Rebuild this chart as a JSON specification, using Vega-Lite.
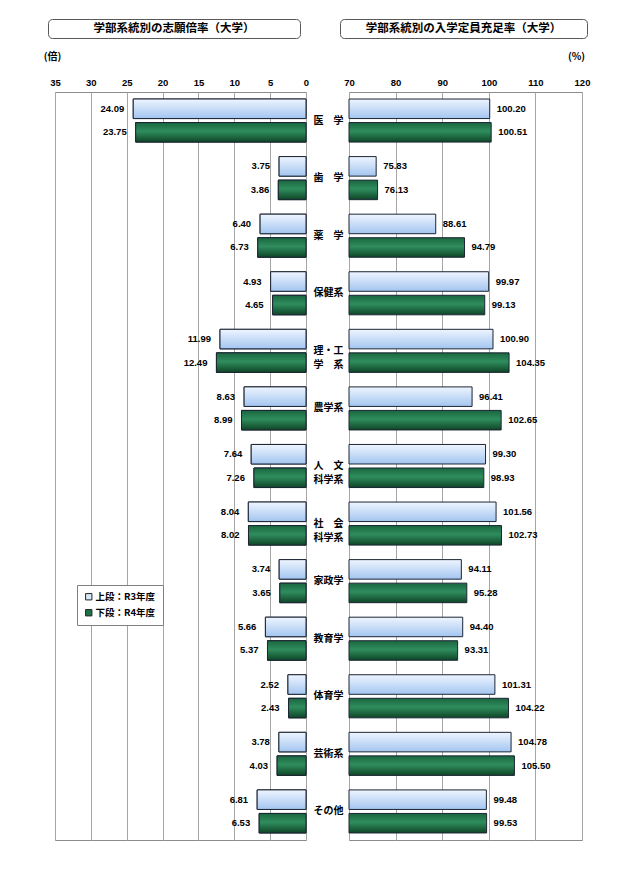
{
  "$schema": "https://vega.github.io/schema/vega-lite/v6.json",
  "background": "white",
  "padding": {"left": 42, "top": 18, "right": 5, "bottom": 5},
  "config": {
    "font": "Noto Sans CJK JP",
    "axis": {"labelColor": "#000", "titleColor": "#000"}
  },
  "vconcat": [
    {
      "hconcat": [
        {
          "width": 252, "height": 19,
          "view": {"stroke": "#595959", "cornerRadius": 4, "strokeWidth": 1},
          "data": {"values": [{}]},
          "mark": {"type": "text", "text": "学部系統別の志願倍率（大学）", "font": "Noto Sans CJK JP", "fontSize": 11.5, "fontWeight": "bold", "color": "#000"},
          "encoding": {}
        },
        {
          "width": 247, "height": 19,
          "view": {"stroke": "#595959", "cornerRadius": 4, "strokeWidth": 1},
          "data": {"values": [{}]},
          "mark": {"type": "text", "text": "学部系統別の入学定員充足率（大学）", "font": "Noto Sans CJK JP", "fontSize": 11.5, "fontWeight": "bold", "color": "#000"},
          "encoding": {}
        }
      ],
      "spacing": 40,
      "bounds": "flush"
    },
    {
      "hconcat": [
        {
          "width": 1, "height": 748,
          "view": {"stroke": null},
          "data": {"values": [{}]},
          "mark": {"type": "text", "text": ""},
          "encoding": {}
        },
        {
          "data": {"values": [
            {"cat": "医　学", "year": "R3", "ratio": 24.09, "rate": 100.20},
            {"cat": "医　学", "year": "R4", "ratio": 23.75, "rate": 100.51},
            {"cat": "歯　学", "year": "R3", "ratio": 3.75, "rate": 75.83},
            {"cat": "歯　学", "year": "R4", "ratio": 3.86, "rate": 76.13},
            {"cat": "薬　学", "year": "R3", "ratio": 6.40, "rate": 88.61},
            {"cat": "薬　学", "year": "R4", "ratio": 6.73, "rate": 94.79},
            {"cat": "保健系", "year": "R3", "ratio": 4.93, "rate": 99.97},
            {"cat": "保健系", "year": "R4", "ratio": 4.65, "rate": 99.13},
            {"cat": "理・工\n学　系", "year": "R3", "ratio": 11.99, "rate": 100.90},
            {"cat": "理・工\n学　系", "year": "R4", "ratio": 12.49, "rate": 104.35},
            {"cat": "農学系", "year": "R3", "ratio": 8.63, "rate": 96.41},
            {"cat": "農学系", "year": "R4", "ratio": 8.99, "rate": 102.65},
            {"cat": "人　文\n科学系", "year": "R3", "ratio": 7.64, "rate": 99.30},
            {"cat": "人　文\n科学系", "year": "R4", "ratio": 7.26, "rate": 98.93},
            {"cat": "社　会\n科学系", "year": "R3", "ratio": 8.04, "rate": 101.56},
            {"cat": "社　会\n科学系", "year": "R4", "ratio": 8.02, "rate": 102.73},
            {"cat": "家政学", "year": "R3", "ratio": 3.74, "rate": 94.11},
            {"cat": "家政学", "year": "R4", "ratio": 3.65, "rate": 95.28},
            {"cat": "教育学", "year": "R3", "ratio": 5.66, "rate": 94.40},
            {"cat": "教育学", "year": "R4", "ratio": 5.37, "rate": 93.31},
            {"cat": "体育学", "year": "R3", "ratio": 2.52, "rate": 101.31},
            {"cat": "体育学", "year": "R4", "ratio": 2.43, "rate": 104.22},
            {"cat": "芸術系", "year": "R3", "ratio": 3.78, "rate": 104.78},
            {"cat": "芸術系", "year": "R4", "ratio": 4.03, "rate": 105.50},
            {"cat": "その他", "year": "R3", "ratio": 6.81, "rate": 99.48},
            {"cat": "その他", "year": "R4", "ratio": 6.53, "rate": 99.53}
          ]},
          "hconcat": [
            {
              "width": 251, "height": 748,
              "view": {"stroke": "#8c8c8c"},
              "encoding": {
                "y": {"field": "cat", "type": "nominal", "axis": null,
                      "sort": ["医　学", "歯　学", "薬　学", "保健系", "理・工\n学　系", "農学系", "人　文\n科学系", "社　会\n科学系", "家政学", "教育学", "体育学", "芸術系", "その他"],
                      "scale": {"paddingInner": 0.252, "paddingOuter": 0.122}},
                "yOffset": {"field": "year", "type": "nominal", "sort": ["R3", "R4"], "scale": {"paddingInner": 0.17}},
                "x": {"field": "ratio", "type": "quantitative",
                      "scale": {"domain": [0, 35], "reverse": true, "nice": false},
                      "axis": {"orient": "top", "values": [0, 5, 10, 15, 20, 25, 30, 35], "grid": true, "gridColor": "#a6a6a6",
                               "domain": false, "ticks": false, "tickSize": 0, "labelPadding": 5, "labelFlush": false,
                               "labelFont": "Liberation Sans", "labelFontSize": 9.5, "labelFontWeight": "bold",
                               "title": "(倍)", "titleX": -3, "titleY": -36, "titleAlign": "center", "titleBaseline": "middle", "titleAngle": 0,
                               "titleFont": "Noto Sans CJK JP", "titleFontSize": 10, "titleFontWeight": "bold"}}
              },
              "layer": [
                {
                  "mark": {"type": "bar", "stroke": "#1c2533", "strokeWidth": 1},
                  "encoding": {
                    "color": {"field": "year", "type": "nominal",
                              "scale": {"domain": ["R3", "R4"], "range": ["#d9e9fc", "#1e7246"]},
                              "legend": {"orient": "none", "legendX": 22, "legendY": 493, "title": null, "direction": "vertical",
                                         "symbolType": "square", "symbolSize": 40, "symbolStrokeColor": "#222", "symbolStrokeWidth": 1,
                                         "labelFont": "Noto Sans CJK JP", "labelFontSize": 9.5, "labelFontWeight": "bold", "labelColor": "#000",
                                         "strokeColor": "#808080", "fillColor": "white", "padding": 7, "rowPadding": 5, "labelOffset": 2,
                                         "labelExpr": "datum.label == 'R3' ? '上段：R3年度' : '下段：R4年度'"}}
                  }
                },
                {
                  "transform": [{"filter": "datum.year == 'R3'"}],
                  "mark": {"type": "bar", "stroke": "#1c2533", "strokeWidth": 1,
                           "fill": {"gradient": "linear", "x1": 0, "y1": 0, "x2": 0, "y2": 1,
                                    "stops": [{"offset": 0, "color": "#eef5ff"}, {"offset": 1, "color": "#a3c5f0"}]}}
                },
                {
                  "transform": [{"filter": "datum.year == 'R4'"}],
                  "mark": {"type": "bar", "stroke": "#1c2533", "strokeWidth": 1,
                           "fill": {"gradient": "linear", "x1": 0, "y1": 0, "x2": 0, "y2": 1,
                                    "stops": [{"offset": 0, "color": "#1a6640"}, {"offset": 0.45, "color": "#2f8d5d"}, {"offset": 1, "color": "#0e4527"}]}}
                },
                {
                  "mark": {"type": "text", "align": "right", "baseline": "middle", "dx": -9, "font": "Liberation Sans", "fontSize": 9.5, "fontWeight": "bold", "color": "#000"},
                  "encoding": {"text": {"field": "ratio", "type": "quantitative", "format": ".2f"}}
                }
              ]
            },
            {
              "width": 233, "height": 748,
              "view": {"stroke": "#8c8c8c"},
              "encoding": {
                "y": {"field": "cat", "type": "nominal",
                      "sort": ["医　学", "歯　学", "薬　学", "保健系", "理・工\n学　系", "農学系", "人　文\n科学系", "社　会\n科学系", "家政学", "教育学", "体育学", "芸術系", "その他"],
                      "scale": {"paddingInner": 0.252, "paddingOuter": 0.122},
                      "axis": {"orient": "left", "title": null, "ticks": false, "tickSize": 0, "domain": false, "grid": false,
                               "labelAlign": "center", "labelBaseline": "middle", "labelPadding": 21,
                               "labelFont": "Noto Sans CJK JP", "labelFontSize": 10, "labelFontWeight": "bold", "labelLineHeight": 14,
                               "labelExpr": "split(datum.label, '\\n')"}},
                "yOffset": {"field": "year", "type": "nominal", "sort": ["R3", "R4"], "scale": {"paddingInner": 0.17}},
                "x": {"field": "rate", "type": "quantitative",
                      "scale": {"domain": [70, 120], "zero": false, "nice": false},
                      "axis": {"orient": "top", "values": [70, 80, 90, 100, 110, 120], "grid": true, "gridColor": "#a6a6a6",
                               "domain": false, "ticks": false, "tickSize": 0, "labelPadding": 5, "labelFlush": false,
                               "labelFont": "Liberation Sans", "labelFontSize": 9.5, "labelFontWeight": "bold",
                               "title": "(%)", "titleX": 227, "titleY": -36, "titleAlign": "center", "titleBaseline": "middle", "titleAngle": 0,
                               "titleFont": "Noto Sans CJK JP", "titleFontSize": 10, "titleFontWeight": "bold"}}
              },
              "layer": [
                {
                  "transform": [{"filter": "datum.year == 'R3'"}],
                  "mark": {"type": "bar", "stroke": "#1c2533", "strokeWidth": 1,
                           "fill": {"gradient": "linear", "x1": 0, "y1": 0, "x2": 0, "y2": 1,
                                    "stops": [{"offset": 0, "color": "#eef5ff"}, {"offset": 1, "color": "#a3c5f0"}]}},
                  "encoding": {"x2": {"datum": 70}}
                },
                {
                  "transform": [{"filter": "datum.year == 'R4'"}],
                  "mark": {"type": "bar", "stroke": "#1c2533", "strokeWidth": 1,
                           "fill": {"gradient": "linear", "x1": 0, "y1": 0, "x2": 0, "y2": 1,
                                    "stops": [{"offset": 0, "color": "#1a6640"}, {"offset": 0.45, "color": "#2f8d5d"}, {"offset": 1, "color": "#0e4527"}]}},
                  "encoding": {"x2": {"datum": 70}}
                },
                {
                  "mark": {"type": "text", "align": "left", "baseline": "middle", "dx": 7, "font": "Liberation Sans", "fontSize": 9.5, "fontWeight": "bold", "color": "#000"},
                  "encoding": {"text": {"field": "rate", "type": "quantitative", "format": ".2f"}}
                }
              ]
            }
          ],
          "spacing": 43,
          "bounds": "flush",
          "resolve": {"scale": {"color": "independent"}, "legend": {"color": "independent"}}
        }
      ],
      "spacing": 6,
      "bounds": "flush"
    }
  ],
  "spacing": 11,
  "bounds": "full"
}
